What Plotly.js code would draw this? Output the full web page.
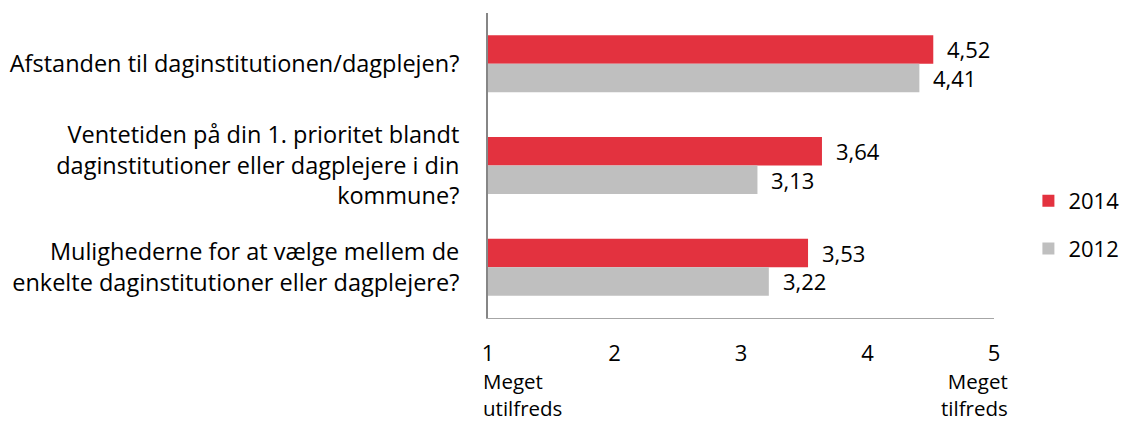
<!DOCTYPE html>
<html><head><meta charset="utf-8">
<script src="https://cdn.plot.ly/plotly-3.0.1.min.js"></script>
<style>html,body{margin:0;padding:0;background:#fff}#chart{width:1122px;height:422px}</style>
</head><body><div id="chart"></div>
<script>
const categories = [
  "Afstanden til daginstitutionen/dagplejen?",
  "Ventetiden på din 1. prioritet blandt<br>daginstitutioner eller dagplejere i din<br>kommune?",
  "Mulighederne for at vælge mellem de<br>enkelte daginstitutioner eller dagplejere?"
];
const values2014 = [4.52, 3.64, 3.53];
const values2012 = [4.41, 3.13, 3.22];
const seriesNames = ["2014", "2012"];
const tickVals = [1, 2, 3, 4, 5];
const tickText = ["1", "2", "3", "4", "5"];
const endLabels = ["Meget<br>utilfreds", "Meget<br>tilfreds"];

const FONT = "'Open Sans', Lato, sans-serif";
const fmt = v => v.toFixed(2).replace(".", ",");

const traces = [
  {type: "bar", orientation: "h", name: seriesNames[0], y: categories, x: values2014,
   marker: {color: "#E3323F"}, legendgroup: "a", hoverinfo: "skip"},
  {type: "bar", orientation: "h", name: seriesNames[1], y: categories, x: values2012,
   marker: {color: "#BFBFBF"}, legendgroup: "b", hoverinfo: "skip"}
];

const annotations = [];
categories.forEach((c, i) => {
  annotations.push({xref: "x", yref: "y", x: values2014[i], y: c, yshift: 14.5, xshift: 12,
    xanchor: "left", yanchor: "middle", text: fmt(values2014[i]), showarrow: false,
    font: {family: FONT, size: 22, color: "#000"}});
  annotations.push({xref: "x", yref: "y", x: values2012[i], y: c, yshift: -14, xshift: 12,
    xanchor: "left", yanchor: "middle", text: fmt(values2012[i]), showarrow: false,
    font: {family: FONT, size: 22, color: "#000"}});
});
annotations.push({xref: "x", yref: "paper", x: tickVals[0], y: 0, yshift: -47, xshift: -7,
  xanchor: "left", yanchor: "top", align: "left", text: endLabels[0], showarrow: false,
  font: {family: FONT, size: 20.5, color: "#000"}});
annotations.push({xref: "x", yref: "paper", x: tickVals[tickVals.length - 1], y: 0, yshift: -47, xshift: 16,
  xanchor: "right", yanchor: "top", align: "right", text: endLabels[1], showarrow: false,
  font: {family: FONT, size: 20.5, color: "#000"}});

const layout = {
  width: 1122, height: 422,
  margin: {l: 488, r: 128, t: 13, b: 104, autoexpand: false},
  paper_bgcolor: "#fff", plot_bgcolor: "#fff",
  font: {family: FONT, size: 22, color: "#000"},
  barmode: "group", bargap: 0.44, bargroupgap: 0,
  showlegend: true,
  legend: {x: 1.068, y: 0.305, xanchor: "left", yanchor: "middle", tracegroupgap: 16,
    font: {family: FONT, size: 22, color: "#000"}, bgcolor: "rgba(0,0,0,0)"},
  xaxis: {range: [1, 5], tickvals: tickVals, ticktext: tickText, showgrid: false, zeroline: false,
    showline: true, linecolor: "#A6A6A6", linewidth: 1, ticks: "", ticklabelstandoff: 16,
    tickfont: {family: FONT, size: 22, color: "#000"}, fixedrange: true},
  yaxis: {autorange: "reversed", showgrid: false, zeroline: false, showline: true,
    linecolor: "#868686", linewidth: 2, ticks: "", ticklabelstandoff: 22,
    tickfont: {family: FONT, size: 23.5, color: "#000"}, fixedrange: true},
  annotations: annotations
};

Plotly.newPlot("chart", traces, layout, {displayModeBar: false, staticPlot: true});
</script></body></html>
